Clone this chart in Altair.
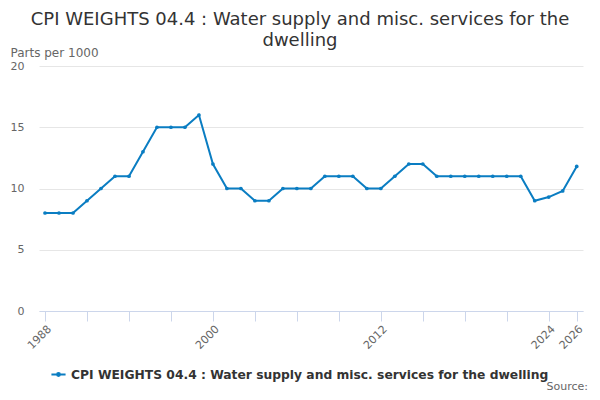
import altair as alt
import pandas as pd

series_name = "CPI WEIGHTS 04.4 : Water supply and misc. services for the dwelling"
years = list(range(1988, 2027))
values = [8, 8, 8, 9, 10, 11, 11, 13, 15, 15, 15, 16, 12, 10, 10, 9, 9, 10, 10, 10,
          11, 11, 11, 10, 10, 11, 12, 12, 11, 11, 11, 11, 11, 11, 11, 9, 9.3, 9.8, 11.8]
tick_years = [1988, 1991, 1994, 1997, 2000, 2003, 2006, 2009, 2012, 2015, 2018, 2021, 2024, 2026]
label_years = [1988, 2000, 2012, 2024, 2026]
y_ticks = [0, 5, 10, 15, 20]
source_text = ["Source:"]

df = pd.DataFrame({"year": years, "value": values})
src = pd.DataFrame({"t": source_text})

FONT = "DejaVu Sans"
COLOR = "#0a7dc2"
W, H = 544, 245

label_expr = "indexof([" + ",".join(str(y) for y in label_years) + "], datum.value) >= 0 ? datum.label : ''"

line = alt.Chart(df).mark_line(
    strokeWidth=2,
    point=alt.OverlayMarkDef(size=14, filled=True, color=COLOR),
).encode(
    x=alt.X("year:Q",
            scale=alt.Scale(domain=[1987.57, 2026.45], nice=False, zero=False),
            axis=alt.Axis(values=tick_years, format="d", labelExpr=label_expr,
                          labelAngle=-45, labelFontSize=11, labelColor="#666666",
                          labelFont=FONT, tickColor="#ccd6eb", domainColor="#ccd6eb",
                          tickSize=10, labelPadding=2, grid=False, title=None,
                          labelOverlap=False, labelFlush=False)),
    y=alt.Y("value:Q",
            scale=alt.Scale(domain=[0, 20], nice=False),
            axis=alt.Axis(values=y_ticks, labelFontSize=11, labelColor="#666666",
                          labelFont=FONT, grid=True, gridColor="#e6e6e6",
                          domain=False, ticks=False, labelPadding=15,
                          title="Parts per 1000", titleAngle=0, titleAlign="left",
                          titleBaseline="alphabetic", titleX=-29, titleY=-10,
                          titleFont=FONT, titleFontSize=12, titleFontWeight="normal",
                          titleColor="#666666")),
    color=alt.Color("s:N", scale=alt.Scale(range=[COLOR]),
                    legend=alt.Legend(title=None)),
).transform_calculate(s=f"'{series_name}'")

source = alt.Chart(src).mark_text(
    align="right", baseline="alphabetic", font=FONT, fontSize=11, color="#666666"
).encode(
    x=alt.value(W + 5), y=alt.value(H + 79), text="t:N"
)

chart = alt.layer(line, source).properties(
    width=W, height=H,
    autosize=alt.AutoSizeParams(type="none"),
    padding={"left": 31, "top": 58, "right": 9, "bottom": 81},
    title=alt.Title(
        text=["CPI WEIGHTS 04.4 : Water supply and misc. services for the", "dwelling"],
        font=FONT, fontSize=18, fontWeight="normal", color="#333333",
        anchor="middle", dx=-11, offset=-4, lineHeight=21,
    ),
).configure_view(stroke=None).configure_legend(
    orient="none", legendX=11, legendY=300,
    symbolType="M-1,0H1M0.2,0A0.2,0.2 0 1,1 -0.2,0A0.2,0.2 0 1,1 0.2,0",
    symbolSize=200, symbolStrokeWidth=2, symbolStrokeColor=COLOR,
    labelFont=FONT, labelFontSize=12.3, labelFontWeight="bold", labelColor="#333333",
    labelLimit=600,
)

chart.save("out.html", embed_options={"renderer": "svg", "actions": False})
